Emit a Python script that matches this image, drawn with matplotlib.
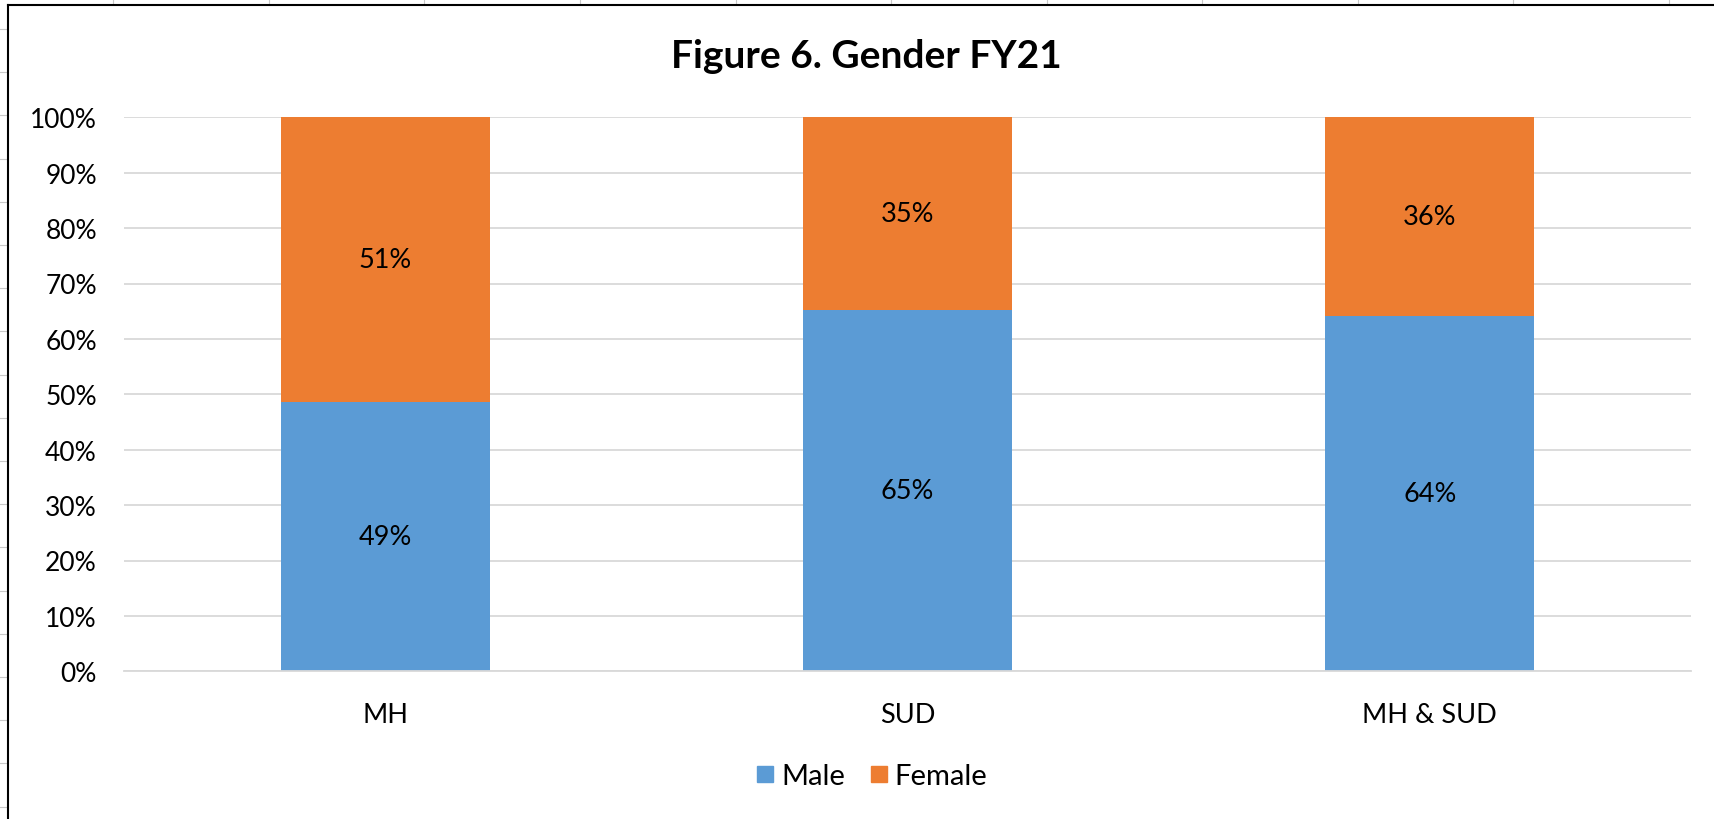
import numpy as np
import matplotlib as mpl
mpl.use('Agg')
import matplotlib.pyplot as plt
from matplotlib.lines import Line2D

# data
categories = ['MH', 'SUD', 'MH & SUD']
male = [48.6, 65.2, 64.1]
female = [51.4, 34.8, 35.9]
series_names = ['Male', 'Female']
title = 'Figure 6. Gender FY21'

# colors (office theme)
c_male = '#5B9BD5'
c_female = '#ED7D31'
c_grid = '#D9D9D9'

mpl.rcParams['font.family'] = ['Lato', 'DejaVu Sans']

W, H = 1715, 820
fig = plt.figure(figsize=(W / 100, H / 100), dpi=100)
fig.patch.set_facecolor('white')

# spreadsheet cell lines peeking around the chart object
for xp in [113, 269, 424, 580, 736, 891, 1047, 1202, 1358, 1513, 1669]:
    fig.add_artist(Line2D([xp / W, xp / W], [1, 1 - 5 / H], transform=fig.transFigure,
                          color='#C8C8C8', lw=0.8))
for k in range(19):
    yp = 30 + 43.2 * k
    fig.add_artist(Line2D([0, 7 / W], [1 - yp / H, 1 - yp / H], transform=fig.transFigure,
                          color='#C8C8C8', lw=0.8))

# chart object border (runs off the right and bottom edge)
fig.add_artist(Line2D([8.5 / W, 8.5 / W], [0, 1 - 5.5 / H], transform=fig.transFigure,
                      color='black', lw=1.5, solid_capstyle='projecting'))
fig.add_artist(Line2D([8.5 / W, 1], [1 - 5.5 / H, 1 - 5.5 / H], transform=fig.transFigure,
                      color='black', lw=1.5, solid_capstyle='projecting'))

# plot area
left, right = 124 / W, 1691 / W
bottom, top = 1 - 672.3 / H, 1 - 118.3 / H
ax = fig.add_axes([left, bottom, right - left, top - bottom])

x = np.arange(len(categories))
b1 = ax.bar(x, male, width=0.4, color=c_male, zorder=3, label=series_names[0])
b2 = ax.bar(x, female, width=0.4, bottom=male, color=c_female, zorder=3, label=series_names[1])

ax.bar_label(b1, labels=[f'{round(v)}%' for v in male], label_type='center', fontsize=19.5, color='black')
ax.bar_label(b2, labels=[f'{round(v)}%' for v in female], label_type='center', fontsize=19.5, color='black')

ax.set_xlim(-0.5, len(categories) - 0.5)
ax.set_ylim(0, 100)
ax.set_yticks(np.arange(0, 101, 10))
ax.set_yticklabels([f'{v}%' for v in range(0, 101, 10)])
ax.set_xticks(x)
ax.set_xticklabels(categories)
ax.tick_params(axis='y', length=0, pad=19.5, labelsize=19)
ax.tick_params(axis='x', length=0, pad=22, labelsize=19.5)

ax.grid(axis='y', color=c_grid, lw=1.3, zorder=0)
for s in ['top', 'right', 'left']:
    ax.spines[s].set_visible(False)
ax.spines['bottom'].set_color(c_grid)
ax.spines['bottom'].set_linewidth(1.3)
ax.spines['bottom'].set_zorder(4)

fig.text(866 / W, 1 - 57 / H, title, ha='center', va='center', fontsize=28, fontweight='bold')

handles = [Line2D([], [], marker='s', linestyle='', markersize=11.5, color=c_male),
           Line2D([], [], marker='s', linestyle='', markersize=11.5, color=c_female)]
fig.legend(handles, series_names, loc='center', bbox_to_anchor=(872 / W, 1 - 777 / H),
           ncol=2, frameon=False, fontsize=21, handlelength=0.6, handletextpad=0.25,
           columnspacing=0.85, borderpad=0)

fig.savefig('out.png', dpi=100)
